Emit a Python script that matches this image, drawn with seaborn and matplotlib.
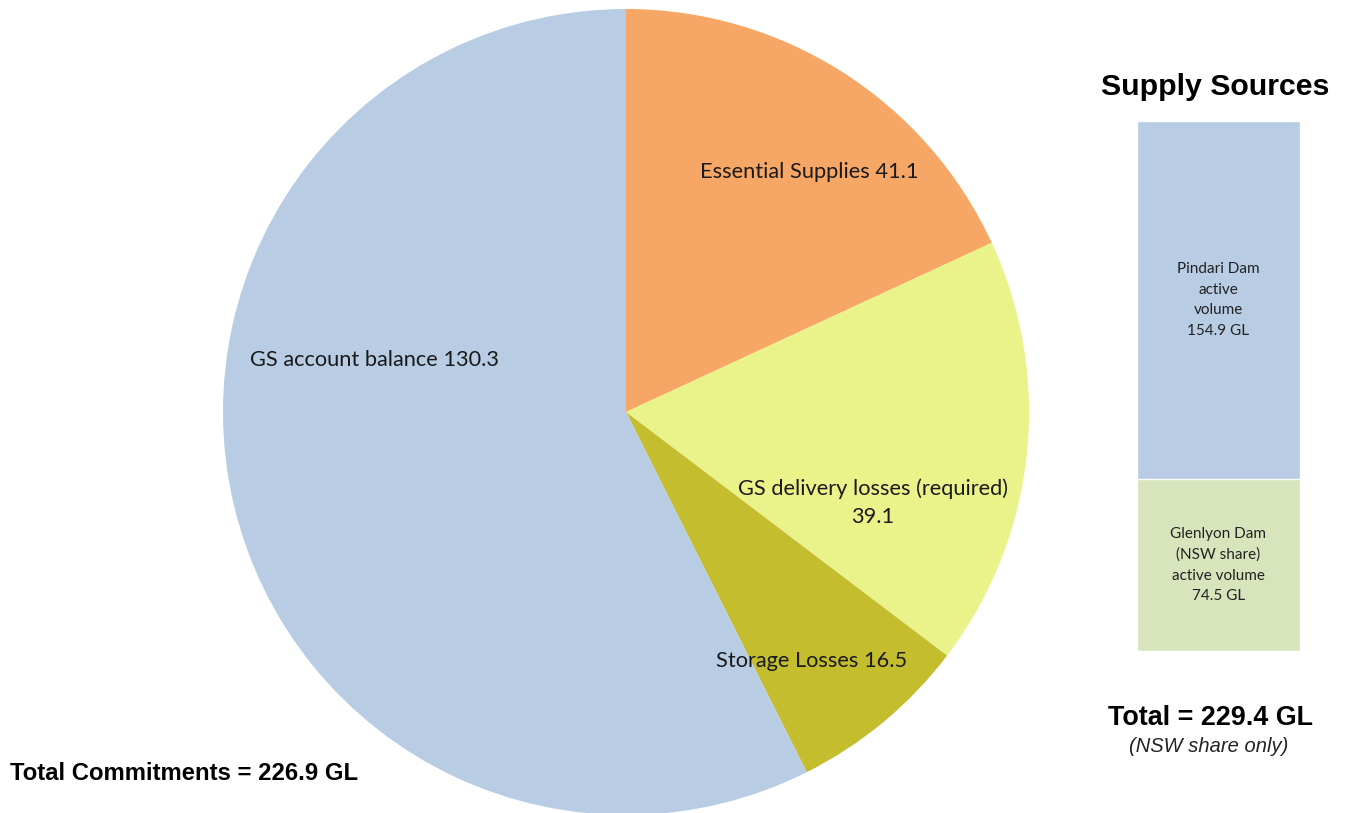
import matplotlib
matplotlib.use("Agg")
import matplotlib.pyplot as plt
import seaborn as sns
import pandas as pd

# Commitments (GL)
commit_labels = ["Essential Supplies 41.1", "GS delivery losses (required)\n39.1",
                 "Storage Losses 16.5", "GS account balance 130.3"]
commit_values = [41.1, 39.1, 16.5, 130.3]
commit_colors = ["#F7A765", "#EAF28A", "#C4BD2E", "#B8CCE4"]
# label placement inside the pie (data units)
label_pos = [(0.454, 0.596), (0.613, -0.226), (0.461, -0.618), (-0.625, 0.129)]

# Supply sources (GL)
source_names = ["Pindari Dam\nactive\nvolume\n154.9 GL",
                "Glenlyon Dam\n(NSW share)\nactive volume\n74.5 GL"]
source_values = [154.9, 74.5]
source_colors = ["#B8CCE4", "#D7E4BC"]

sns.set_theme(style="white")
plt.rcParams["font.family"] = ["Lato", "DejaVu Sans"]

W, H = 1347, 813
fig = plt.figure(figsize=(W / 100, H / 100), dpi=100)
fig.patch.set_facecolor("white")

# Pie chart
cx, cy, r = 626, 412, 403
ax = fig.add_axes([(cx - r) / W, (H - cy - r) / H, 2 * r / W, 2 * r / H])
ax.pie(commit_values, colors=commit_colors, startangle=90, counterclock=False,
       radius=1, wedgeprops=dict(linewidth=0))
ax.set_xlim(-1, 1)
ax.set_ylim(-1, 1)
ax.set_aspect("equal")
ax.axis("off")
for lab, (x, y) in zip(commit_labels, label_pos):
    ax.text(x, y, lab, ha="center", va="center", fontsize=15.7, color="#1a1a1a",
            linespacing=1.5)

# Stacked bar for supply sources
bx0, bx1, by0, by1 = 1137, 1300, 121, 651
bax = fig.add_axes([bx0 / W, (H - by1) / H, (bx1 - bx0) / W, (by1 - by0) / H])
total = sum(source_values)
df = pd.DataFrame({"x": ["s"], "total": [total], "bottom": [source_values[1]]})
sns.barplot(data=df, x="x", y="total", color=source_colors[0], width=1.0,
            saturation=1, ax=bax)
sns.barplot(data=df, x="x", y="bottom", color=source_colors[1], width=1.0,
            saturation=1, ax=bax)
bax.set_xlim(-0.5, 0.5)
bax.set_ylim(0, total)
bax.axis("off")
bax.text(0, source_values[1] + source_values[0] * 0.5, source_names[0], ha="center",
         va="center", fontsize=11, color="#222222", linespacing=1.6)
bax.text(0, source_values[1] * 0.5, source_names[1], ha="center", va="center",
         fontsize=11, color="#222222", linespacing=1.6)

# Titles / totals
bold = dict(family=["Liberation Sans", "DejaVu Sans"], fontweight="bold", color="black")
fig.text(1215 / W, 1 - 87 / H, "Supply Sources", ha="center", va="center", fontsize=21.8, **bold)
fig.text(1210 / W, 1 - 718 / H, "Total = 229.4 GL", ha="center", va="center", fontsize=19.4, **bold)
fig.text(1209 / W, 1 - 746 / H, "(NSW share only)", ha="center", va="center", fontsize=14.5,
         family=["Liberation Sans", "DejaVu Sans"], style="italic", color="#222222")
fig.text(10 / W, 1 - 773 / H, "Total Commitments = 226.9 GL", ha="left", va="center",
         fontsize=17.2, **bold)

fig.savefig("out.png", dpi=100, facecolor="white")
